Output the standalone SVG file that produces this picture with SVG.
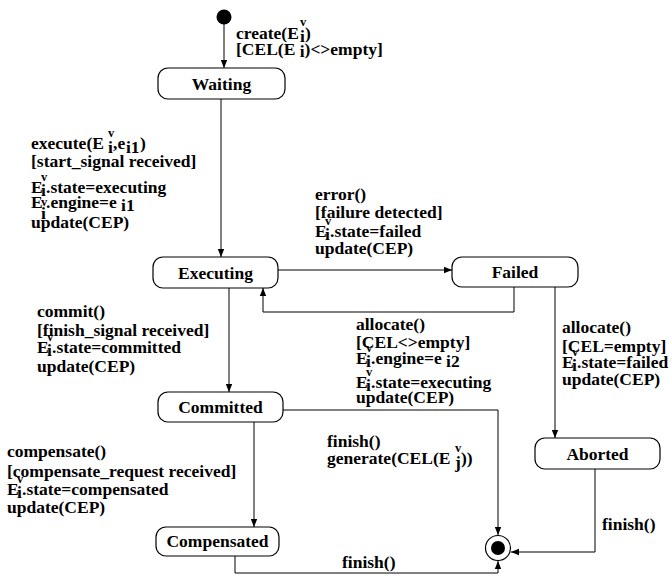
<svg xmlns="http://www.w3.org/2000/svg" width="672" height="585" viewBox="0 0 672 585">
<style>
text{font-family:"Liberation Serif","Times New Roman",serif;font-weight:bold;font-size:17.5px;fill:#000}
.node{fill:#fff;stroke:#000;stroke-width:1.2}
.lbl{text-anchor:middle}
.sm{font-size:12.5px}
.conn{fill:none;stroke:#000;stroke-width:1}
</style>
<defs>
<marker id="ah" viewBox="0 0 10 10" refX="10" refY="5" markerWidth="8" markerHeight="8" markerUnits="userSpaceOnUse" orient="auto">
<path d="M0,1 L10,5 L0,9 z" fill="#000"/>
</marker>
</defs>
<rect width="672" height="585" fill="#fff"/>
<g id="connectors">
<path class="conn" d="M224,24 V68" marker-end="url(#ah)"/>
<path class="conn" d="M221,99 V257" marker-end="url(#ah)"/>
<path class="conn" d="M278,270 H452" marker-end="url(#ah)"/>
<path class="conn" d="M514,287 V312 H263 V288" marker-end="url(#ah)"/>
<path class="conn" d="M555,287 V438" marker-end="url(#ah)"/>
<path class="conn" d="M229,288 V392" marker-end="url(#ah)"/>
<path class="conn" d="M283,410 H498 V535" marker-end="url(#ah)"/>
<path class="conn" d="M254,422 V527" marker-end="url(#ah)"/>
<path class="conn" d="M235,556 V573 H498 V561" marker-end="url(#ah)"/>
<path class="conn" d="M595,469 V552 H511" marker-end="url(#ah)"/>
</g>
<g id="initial"><circle cx="224" cy="17" r="7.5" fill="#000"/></g>
<g id="final"><circle cx="498" cy="548" r="12.5" fill="#fff" stroke="#000" stroke-width="1.2"/><circle cx="498" cy="548" r="7" fill="#000"/></g>
<g id="waiting"><rect class="node" x="158" y="68" width="127" height="31" rx="10"/><text class="lbl" x="221.5" y="90">Waiting</text></g>
<g id="executing"><rect class="node" x="153" y="257" width="125" height="31" rx="10"/><text class="lbl" x="215.5" y="279">Executing</text></g>
<g id="failed"><rect class="node" x="452" y="257" width="126" height="30" rx="10"/><text class="lbl" x="515" y="278">Failed</text></g>
<g id="committed"><rect class="node" x="158" y="392" width="125" height="30" rx="10"/><text class="lbl" x="220.5" y="413">Committed</text></g>
<g id="aborted"><rect class="node" x="535" y="438" width="125" height="31" rx="10"/><text class="lbl" x="597.5" y="460">Aborted</text></g>
<g id="compensated"><rect class="node" x="156" y="527" width="123" height="29" rx="10"/><text class="lbl" x="217.5" y="547">Compensated</text></g>
<g id="labels">
<text x="236" y="39">create(E<tspan class="sm" x="300" y="26">v</tspan><tspan x="300" y="42">i</tspan><tspan x="305" y="39">)</tspan></text>
<text x="236" y="55">[CEL(E<tspan dy="2"> i</tspan><tspan dy="-2">)&lt;&gt;empty]</tspan></text>

<text x="31" y="149">execute(E<tspan class="sm" x="108" y="137">v</tspan><tspan x="108" y="153">i</tspan><tspan x="113" y="149">,e</tspan><tspan x="126" y="153">i1</tspan><tspan x="140" y="149">)</tspan></text>
<text x="31" y="167">[start_signal received]</text>
<text x="31" y="193">E<tspan class="sm" x="41" y="181">v</tspan><tspan x="41" y="196">i</tspan><tspan x="46" y="193">.state=executing</tspan></text>
<text x="31" y="208">E<tspan class="sm" x="41" y="206">v</tspan><tspan x="41" y="219">i</tspan><tspan x="46" y="208">.engine=e</tspan><tspan dy="3"> i1</tspan></text>
<text x="31" y="228">update(CEP)</text>

<text x="315" y="200">error()</text>
<text x="315" y="218">[failure detected]</text>
<text x="315" y="237">E<tspan class="sm" x="325" y="225">v</tspan><tspan x="325" y="240">i</tspan><tspan x="330" y="237">.state=failed</tspan></text>
<text x="315" y="254">update(CEP)</text>

<text x="356" y="330">allocate()</text>
<text x="356" y="348">[CEL&lt;&gt;empty]</text>
<text x="356" y="364">E<tspan class="sm" x="366" y="352">v</tspan><tspan x="366" y="367">i</tspan><tspan x="371" y="364">.engine=e</tspan><tspan dy="3"> i2</tspan></text>
<text x="356" y="388">E<tspan class="sm" x="366" y="376">v</tspan><tspan x="366" y="391">i</tspan><tspan x="371" y="388">.state=executing</tspan></text>
<text x="356" y="403">update(CEP)</text>

<text x="562" y="333">allocate()</text>
<text x="562" y="352">[CEL=empty]</text>
<text x="562" y="368">E<tspan class="sm" x="572" y="356">v</tspan><tspan x="572" y="371">i</tspan><tspan x="577" y="368">.state=failed</tspan></text>
<text x="562" y="385">update(CEP)</text>

<text x="37" y="317">commit()</text>
<text x="37" y="336">[finish_signal received]</text>
<text x="37" y="353">E<tspan class="sm" x="47" y="341">v</tspan><tspan x="47" y="356">i</tspan><tspan x="52" y="353">.state=committed</tspan></text>
<text x="37" y="372">update(CEP)</text>

<text x="7" y="457">compensate()</text>
<text x="7" y="477">[compensate_request received]</text>
<text x="7" y="495">E<tspan class="sm" x="17" y="483">v</tspan><tspan x="17" y="498">i</tspan><tspan x="22" y="495">.state=compensated</tspan></text>
<text x="7" y="513">update(CEP)</text>

<text x="327" y="447">finish()</text>
<text x="327" y="464">generate(CEL(E<tspan class="sm" x="455" y="452">v</tspan><tspan x="455" y="468">j</tspan><tspan x="461" y="464">))</tspan></text>

<text x="602" y="530">finish()</text>
<text x="342" y="568">finish()</text>
</g>
</svg>
